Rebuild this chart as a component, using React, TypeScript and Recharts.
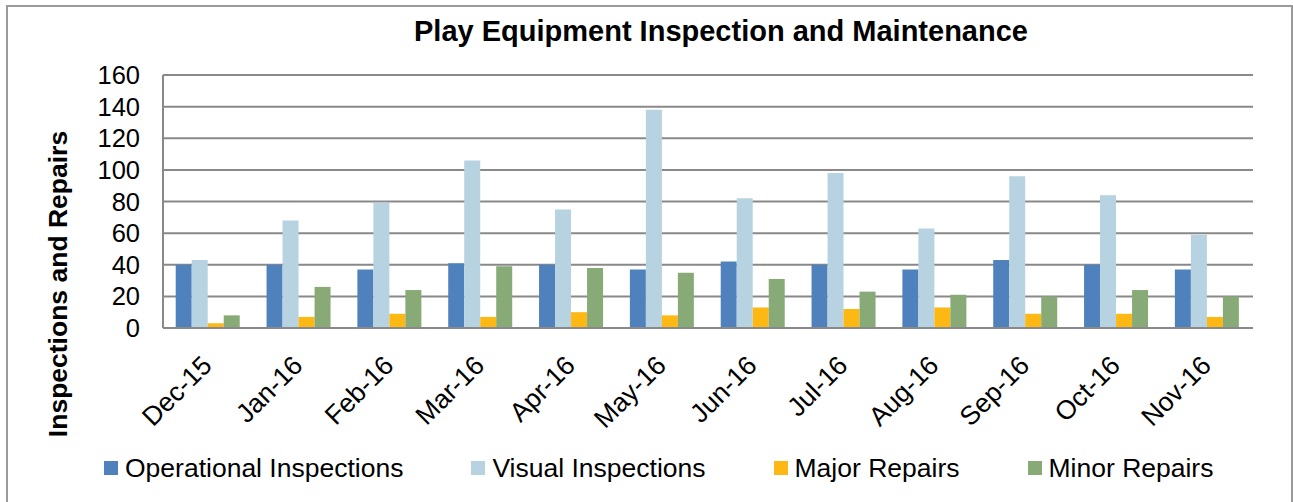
import React from 'react';
import { BarChart, Bar, XAxis, YAxis, CartesianGrid } from 'recharts';

const months = ['Dec-15', 'Jan-16', 'Feb-16', 'Mar-16', 'Apr-16', 'May-16', 'Jun-16', 'Jul-16', 'Aug-16', 'Sep-16', 'Oct-16', 'Nov-16'];
const operationalInspections = [40, 40, 37, 41, 40, 37, 42, 40, 37, 43, 40, 37];
const visualInspections = [43, 68, 79, 106, 75, 138, 82, 98, 63, 96, 84, 59];
const majorRepairs = [3, 7, 9, 7, 10, 8, 13, 12, 13, 9, 9, 7];
const minorRepairs = [8, 26, 24, 39, 38, 35, 31, 23, 21, 20, 24, 20];
const yTicks = [0, 20, 40, 60, 80, 100, 120, 140, 160];

const series = [
  { key: 'operational', name: 'Operational Inspections', color: '#4F81BD' },
  { key: 'visual', name: 'Visual Inspections', color: '#B7D2E0' },
  { key: 'major', name: 'Major Repairs', color: '#FDB813' },
  { key: 'minor', name: 'Minor Repairs', color: '#87AA77' },
];

const data = months.map((month, i) => ({
  month,
  operational: operationalInspections[i],
  visual: visualInspections[i],
  major: majorRepairs[i],
  minor: minorRepairs[i],
}));

const FONT = 'Arial, "Liberation Sans", sans-serif';

const MonthTick = (props: any) => {
  const { x, y, payload } = props;
  return (
    <g transform={`translate(${x + 5},${y + 37})`}>
      <text textAnchor="end" transform="rotate(-45)" fontSize={26.5} fontFamily={FONT} fill="#000">
        {payload.value}
      </text>
    </g>
  );
};

const App: React.FC = () => {
  return (
    <div style={{ position: 'relative', width: 1293, height: 502, background: '#fff', fontFamily: FONT, overflow: 'hidden' }}>
      <style>{'body{margin:0}'}</style>
      <div style={{ position: 'absolute', left: 6, top: 5, width: 1283, height: 520, border: '2px solid #9a9a9a' }} />
      <div style={{ position: 'absolute', left: 0, top: 0 }}>
        <BarChart
          width={1293}
          height={502}
          data={data}
          margin={{ top: 75, right: 40, bottom: 0, left: 0 }}
          barCategoryGap="14%"
          barGap={0}
        >
          <CartesianGrid vertical={false} stroke="#898989" strokeWidth={2} />
          <XAxis
            dataKey="month"
            height={174}
            interval={0}
            tickLine={false}
            tickSize={0}
            tick={<MonthTick />}
            axisLine={{ stroke: '#898989', strokeWidth: 2 }}
          />
          <YAxis
            width={163}
            domain={[0, 160]}
            ticks={yTicks}
            interval={0}
            tickLine={false}
            tickSize={0}
            tickMargin={23}
            axisLine={{ stroke: '#898989', strokeWidth: 2 }}
            tick={{ fontSize: 25.5, fill: '#000', fontFamily: FONT }}
          />
          {series.map((s) => (
            <Bar key={s.key} dataKey={s.key} name={s.name} fill={s.color} isAnimationActive={false} />
          ))}
        </BarChart>
      </div>
      <svg width={1293} height={502} style={{ position: 'absolute', left: 0, top: 0, pointerEvents: 'none' }}>
        <text x={721} y={41} textAnchor="middle" fontSize={29} fontWeight="bold" fontFamily={FONT} fill="#000">
          Play Equipment Inspection and Maintenance
        </text>
        <text transform="translate(67,284) rotate(-90)" textAnchor="middle" fontSize={26.5} fontWeight="bold" fontFamily={FONT} fill="#000">
          Inspections and Repairs
        </text>
      </svg>
      <div style={{ position: 'absolute', left: 104, top: 454, height: 28, display: 'flex', alignItems: 'center', gap: 68 }}>
        {series.map((s) => (
          <div key={s.key} style={{ display: 'flex', alignItems: 'center' }}>
            <span style={{ display: 'inline-block', width: 14, height: 14, background: s.color, marginRight: 7 }} />
            <span style={{ fontSize: 26.5, lineHeight: '28px', color: '#000', whiteSpace: 'nowrap' }}>{s.name}</span>
          </div>
        ))}
      </div>
    </div>
  );
};

export default App;
